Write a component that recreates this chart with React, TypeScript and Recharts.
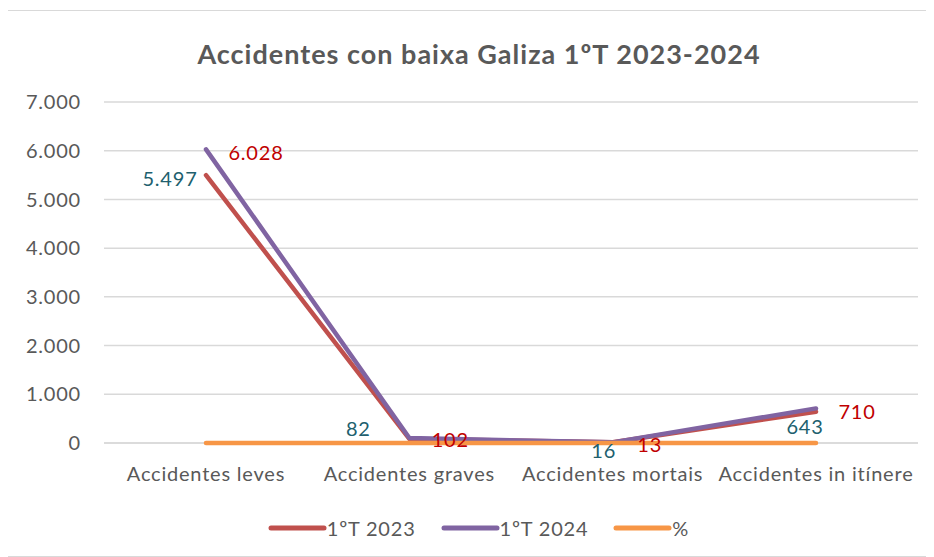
import { LineChart, Line, XAxis, YAxis, CartesianGrid, Legend, LabelList } from "recharts";

const categories = ["Accidentes leves", "Accidentes graves", "Accidentes mortais", "Accidentes in itínere"];
const t2023 = [5497, 82, 16, 643];
const t2024 = [6028, 102, 13, 710];
const pct = [0.097, 0.244, -0.188, 0.104];
const yTicks = [0, 1000, 2000, 3000, 4000, 5000, 6000, 7000];

const data = categories.map((name, i) => ({
  name,
  t2023: t2023[i],
  t2024: t2024[i],
  pct: pct[i],
}));

// label offsets (Excel labels were dragged by hand)
const off2023 = [
  [-36, 3],
  [-51, -11],
  [-9, 8],
  [-11, 14],
];
const off2024 = [
  [50, 3],
  [41, 1],
  [37, 2],
  [41, 3],
];

const fmt = (v: number) => String(v).replace(/\B(?=(\d{3})+(?!\d))/g, ".");
const FONT = "Lato, 'Open Sans', sans-serif";
const GREY = "#595959";
const FS = 20;
const LS = 0.8;

const makeLabel = (offs: number[][], color: string) => (props: any) => {
  const { x, y, value, index } = props;
  const [dx, dy] = offs[index] || [0, 0];
  return (
    <text
      x={x + dx}
      y={y + dy}
      fill={color}
      fontSize={FS}
      fontFamily={FONT}
      letterSpacing={LS}
      textAnchor="middle"
      dominantBaseline="central"
    >
      {fmt(value)}
    </text>
  );
};

const legendItems = [
  { label: "1ºT 2023", color: "#C0504D" },
  { label: "1ºT 2024", color: "#8064A2" },
  { label: "%", color: "#F79646" },
];

function ChartLegend() {
  return (
    <div
      style={{
        display: "flex",
        justifyContent: "center",
        alignItems: "center",
        gap: 25,
        paddingLeft: 33,
        fontFamily: FONT,
        fontSize: FS,
        letterSpacing: LS,
        color: GREY,
        height: 24,
      }}
    >
      {legendItems.map((it) => (
        <div key={it.label} style={{ display: "flex", alignItems: "center" }}>
          <svg width={59} height={10}>
            <line x1={3} y1={5} x2={56} y2={5} stroke={it.color} strokeWidth={5} strokeLinecap="round" />
          </svg>
          <span>{it.label}</span>
        </div>
      ))}
    </div>
  );
}

export default function App() {
  return (
    <div style={{ position: "relative", width: 926, height: 545, marginLeft: -3, marginTop: 2, border: "1px solid #d9d9d9", background: "#fff" }}>
      <div
        style={{
          position: "absolute",
          top: 26,
          left: 10,
          width: "100%",
          textAlign: "center",
          fontFamily: FONT,
          fontWeight: 700,
          fontSize: 27,
          letterSpacing: 1,
          color: GREY,
        }}
      >
        Accidentes con baixa Galiza 1ºT 2023-2024
      </div>
      <LineChart width={926} height={545} data={data} margin={{ top: 91, right: 14, bottom: 16, left: 0 }}>
        <CartesianGrid vertical={false} stroke="#d9d9d9" strokeWidth={1.5} />
        <XAxis
          dataKey="name"
          axisLine={false}
          tickLine={false}
          height={73}
          tickMargin={18}
          padding={{ left: 102, right: 102 }}
          tick={{ fill: GREY, fontSize: FS, fontFamily: FONT, letterSpacing: LS }}
          interval={0}
        />
        <YAxis
          width={98}
          domain={[0, 7000]}
          ticks={yTicks}
          axisLine={false}
          tickLine={false}
          tickMargin={17}
          tickFormatter={fmt}
          tick={{ fill: GREY, fontSize: FS, fontFamily: FONT, letterSpacing: LS }}
        />
        <Legend verticalAlign="bottom" content={() => <ChartLegend />} />
        <Line
          dataKey="t2023"
          stroke="#C0504D"
          strokeWidth={4.5}
          strokeLinecap="round"
          strokeLinejoin="round"
          dot={false}
          isAnimationActive={false}
        >
          <LabelList dataKey="t2023" content={makeLabel(off2023, "#215F6E")} />
        </Line>
        <Line
          dataKey="t2024"
          stroke="#8064A2"
          strokeWidth={4.5}
          strokeLinecap="round"
          strokeLinejoin="round"
          dot={false}
          isAnimationActive={false}
        >
          <LabelList dataKey="t2024" content={makeLabel(off2024, "#C00000")} />
        </Line>
        <Line
          dataKey="pct"
          stroke="#F79646"
          strokeWidth={4.5}
          strokeLinecap="round"
          strokeLinejoin="round"
          dot={false}
          isAnimationActive={false}
        />
      </LineChart>
    </div>
  );
}
